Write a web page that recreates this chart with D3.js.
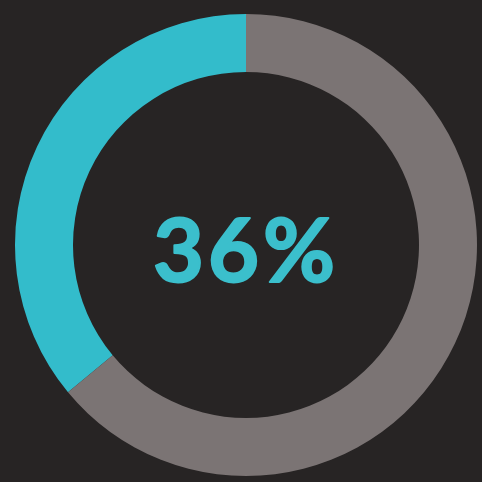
<!DOCTYPE html>
<html>
<head>
<meta charset="utf-8">
<script src="https://cdn.jsdelivr.net/npm/d3@7"></script>
<style>
  html, body { margin: 0; padding: 0; background: #272424; }
  #chart-container { width: 482px; height: 482px; }
</style>
</head>
<body>
<div id="chart-container"></div>
<script>
const labels = ['Done', 'Remaining']
const values = [36, 64]
const colors = ['#33bccb', '#7b7474']

const width = 482
const height = 482
const cx = 246
const cy = 245
const outerRadius = 231
const innerRadius = 173

const svg = d3.select('#chart-container').append('svg')
  .attr('width', width)
  .attr('height', height)

svg.append('rect')
  .attr('width', width)
  .attr('height', height)
  .attr('fill', '#272424')

const g = svg.append('g')
  .attr('transform', 'translate(' + cx + ',' + cy + ')')

// teal slice runs counter-clockwise from 12 o'clock
const pie = d3.pie()
  .sort(null)
  .value(d => d)
  .startAngle(0)
  .endAngle(-2 * Math.PI)

const arc = d3.arc()
  .innerRadius(innerRadius)
  .outerRadius(outerRadius)

g.selectAll('.slice')
  .data(pie(values))
  .enter().append('path')
  .attr('class', 'slice')
  .attr('d', arc)
  .attr('fill', (d, i) => colors[i])
  .append('title')
  .text((d, i) => labels[i])

// rounded numerals, a thin stroke thickens the glyphs a bit
g.append('text')
  .attr('x', 0)
  .attr('y', 37)
  .attr('text-anchor', 'middle')
  .attr('fill', '#3bbfcc')
  .attr('stroke', '#3bbfcc')
  .attr('stroke-width', 2)
  .attr('stroke-linejoin', 'round')
  .style('font-family', 'Lato, sans-serif')
  .style('font-weight', 'bold')
  .style('font-size', '88px')
  .style('letter-spacing', '4px')
  .text(values[0] + '%')
</script>
</body>
</html>
